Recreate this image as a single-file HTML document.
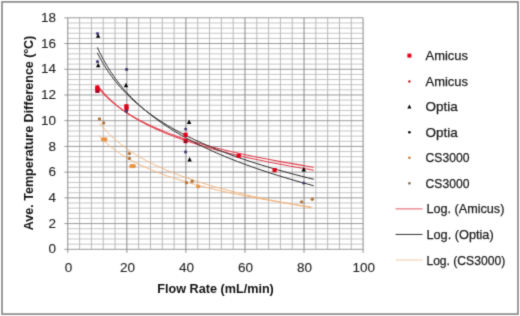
<!DOCTYPE html>
<html><head><meta charset="utf-8"><style>
html,body{margin:0;padding:0;background:#fff;}
svg{display:block;}
.mn{stroke:#bababa;stroke-width:1;}
.mnh{stroke:#c6c6c6;stroke-width:1;}
.mj{stroke:#8a8a8a;stroke-width:1;}
.mjh{stroke:#9a9a9a;stroke-width:1;}
.tl{font-family:"Liberation Sans",sans-serif;font-size:13.5px;fill:#222;stroke:#222;stroke-width:0.1;}
.tt{font-family:"Liberation Sans",sans-serif;font-size:12.4px;font-weight:bold;fill:#111;}
.lg{font-family:"Liberation Sans",sans-serif;font-size:13.4px;fill:#1a1a1a;stroke:#1a1a1a;stroke-width:0.25;}
.to{fill:none;stroke:#f1b47e;stroke-width:1.0;}
.tr{fill:none;stroke:#e2404e;stroke-width:1.05;}
.tk{fill:none;stroke:#2a2a2a;stroke-width:1.0;}
</style></head><body>
<svg width="520" height="316" viewBox="0 0 520 316">
<defs><filter id="bl" x="0" y="0" width="520" height="316" filterUnits="userSpaceOnUse" color-interpolation-filters="sRGB"><feConvolveMatrix order="3" kernelMatrix="0.019 0.1 0.019 0.1 0.524 0.1 0.019 0.1 0.019" divisor="1" edgeMode="none"/></filter></defs>
<rect x="0" y="0" width="520" height="316" fill="#fff"/>
<g filter="url(#bl)">
<rect x="2.0" y="1.9" width="516.0" height="312.2" fill="none" stroke="#7c7c7c" stroke-width="1.5"/>
<line x1="67.80" y1="244.16" x2="363.10" y2="244.16" class="mnh"/>
<line x1="67.80" y1="239.01" x2="363.10" y2="239.01" class="mnh"/>
<line x1="67.80" y1="233.87" x2="363.10" y2="233.87" class="mnh"/>
<line x1="67.80" y1="228.72" x2="363.10" y2="228.72" class="mnh"/>
<line x1="67.80" y1="218.44" x2="363.10" y2="218.44" class="mnh"/>
<line x1="67.80" y1="213.29" x2="363.10" y2="213.29" class="mnh"/>
<line x1="67.80" y1="208.15" x2="363.10" y2="208.15" class="mnh"/>
<line x1="67.80" y1="203.00" x2="363.10" y2="203.00" class="mnh"/>
<line x1="67.80" y1="192.72" x2="363.10" y2="192.72" class="mnh"/>
<line x1="67.80" y1="187.57" x2="363.10" y2="187.57" class="mnh"/>
<line x1="67.80" y1="182.43" x2="363.10" y2="182.43" class="mnh"/>
<line x1="67.80" y1="177.28" x2="363.10" y2="177.28" class="mnh"/>
<line x1="67.80" y1="167.00" x2="363.10" y2="167.00" class="mnh"/>
<line x1="67.80" y1="161.85" x2="363.10" y2="161.85" class="mnh"/>
<line x1="67.80" y1="156.71" x2="363.10" y2="156.71" class="mnh"/>
<line x1="67.80" y1="151.56" x2="363.10" y2="151.56" class="mnh"/>
<line x1="67.80" y1="141.28" x2="363.10" y2="141.28" class="mnh"/>
<line x1="67.80" y1="136.13" x2="363.10" y2="136.13" class="mnh"/>
<line x1="67.80" y1="130.99" x2="363.10" y2="130.99" class="mnh"/>
<line x1="67.80" y1="125.84" x2="363.10" y2="125.84" class="mnh"/>
<line x1="67.80" y1="115.56" x2="363.10" y2="115.56" class="mnh"/>
<line x1="67.80" y1="110.41" x2="363.10" y2="110.41" class="mnh"/>
<line x1="67.80" y1="105.27" x2="363.10" y2="105.27" class="mnh"/>
<line x1="67.80" y1="100.12" x2="363.10" y2="100.12" class="mnh"/>
<line x1="67.80" y1="89.84" x2="363.10" y2="89.84" class="mnh"/>
<line x1="67.80" y1="84.69" x2="363.10" y2="84.69" class="mnh"/>
<line x1="67.80" y1="79.55" x2="363.10" y2="79.55" class="mnh"/>
<line x1="67.80" y1="74.40" x2="363.10" y2="74.40" class="mnh"/>
<line x1="67.80" y1="64.12" x2="363.10" y2="64.12" class="mnh"/>
<line x1="67.80" y1="58.97" x2="363.10" y2="58.97" class="mnh"/>
<line x1="67.80" y1="53.83" x2="363.10" y2="53.83" class="mnh"/>
<line x1="67.80" y1="48.68" x2="363.10" y2="48.68" class="mnh"/>
<line x1="67.80" y1="38.40" x2="363.10" y2="38.40" class="mnh"/>
<line x1="67.80" y1="33.25" x2="363.10" y2="33.25" class="mnh"/>
<line x1="67.80" y1="28.11" x2="363.10" y2="28.11" class="mnh"/>
<line x1="67.80" y1="22.96" x2="363.10" y2="22.96" class="mnh"/>
<line x1="79.61" y1="17.82" x2="79.61" y2="249.30" class="mn"/>
<line x1="91.42" y1="17.82" x2="91.42" y2="249.30" class="mn"/>
<line x1="103.24" y1="17.82" x2="103.24" y2="249.30" class="mn"/>
<line x1="115.05" y1="17.82" x2="115.05" y2="249.30" class="mn"/>
<line x1="138.67" y1="17.82" x2="138.67" y2="249.30" class="mn"/>
<line x1="150.48" y1="17.82" x2="150.48" y2="249.30" class="mn"/>
<line x1="162.30" y1="17.82" x2="162.30" y2="249.30" class="mn"/>
<line x1="174.11" y1="17.82" x2="174.11" y2="249.30" class="mn"/>
<line x1="197.73" y1="17.82" x2="197.73" y2="249.30" class="mn"/>
<line x1="209.54" y1="17.82" x2="209.54" y2="249.30" class="mn"/>
<line x1="221.36" y1="17.82" x2="221.36" y2="249.30" class="mn"/>
<line x1="233.17" y1="17.82" x2="233.17" y2="249.30" class="mn"/>
<line x1="256.79" y1="17.82" x2="256.79" y2="249.30" class="mn"/>
<line x1="268.60" y1="17.82" x2="268.60" y2="249.30" class="mn"/>
<line x1="280.42" y1="17.82" x2="280.42" y2="249.30" class="mn"/>
<line x1="292.23" y1="17.82" x2="292.23" y2="249.30" class="mn"/>
<line x1="315.85" y1="17.82" x2="315.85" y2="249.30" class="mn"/>
<line x1="327.66" y1="17.82" x2="327.66" y2="249.30" class="mn"/>
<line x1="339.48" y1="17.82" x2="339.48" y2="249.30" class="mn"/>
<line x1="351.29" y1="17.82" x2="351.29" y2="249.30" class="mn"/>
<line x1="64.30" y1="249.30" x2="363.10" y2="249.30" class="mjh"/>
<line x1="64.30" y1="223.58" x2="363.10" y2="223.58" class="mjh"/>
<line x1="64.30" y1="197.86" x2="363.10" y2="197.86" class="mjh"/>
<line x1="64.30" y1="172.14" x2="363.10" y2="172.14" class="mjh"/>
<line x1="64.30" y1="146.42" x2="363.10" y2="146.42" class="mjh"/>
<line x1="64.30" y1="120.70" x2="363.10" y2="120.70" class="mjh"/>
<line x1="64.30" y1="94.98" x2="363.10" y2="94.98" class="mjh"/>
<line x1="64.30" y1="69.26" x2="363.10" y2="69.26" class="mjh"/>
<line x1="64.30" y1="43.54" x2="363.10" y2="43.54" class="mjh"/>
<line x1="64.30" y1="17.82" x2="363.10" y2="17.82" class="mjh"/>
<line x1="67.80" y1="17.82" x2="67.80" y2="252.80" class="mj"/>
<line x1="126.86" y1="17.82" x2="126.86" y2="252.80" class="mj"/>
<line x1="185.92" y1="17.82" x2="185.92" y2="252.80" class="mj"/>
<line x1="244.98" y1="17.82" x2="244.98" y2="252.80" class="mj"/>
<line x1="304.04" y1="17.82" x2="304.04" y2="252.80" class="mj"/>
<line x1="363.10" y1="17.82" x2="363.10" y2="252.80" class="mj"/>
<polyline points="99.49,122.83 100.31,123.89 101.15,124.96 102.01,126.02 102.89,127.08 103.80,128.15 104.73,129.21 105.69,130.27 106.67,131.34 107.67,132.40 108.71,133.46 109.76,134.52 110.85,135.59 111.96,136.65 113.11,137.71 114.28,138.78 115.48,139.84 116.72,140.90 117.98,141.97 119.28,143.03 120.61,144.09 121.98,145.16 123.38,146.22 124.82,147.28 126.29,148.35 127.80,149.41 129.36,150.47 130.95,151.54 132.58,152.60 134.26,153.66 135.98,154.73 137.74,155.79 139.55,156.85 141.41,157.92 143.31,158.98 145.27,160.04 147.27,161.11 149.33,162.17 151.44,163.23 153.60,164.30 155.82,165.36 158.10,166.42 160.43,167.49 162.83,168.55 165.29,169.61 167.81,170.68 170.40,171.74 173.05,172.80 175.77,173.87 178.57,174.93 181.43,175.99 184.37,177.06 187.39,178.12 190.48,179.18 193.66,180.25 196.91,181.31 200.25,182.37 203.68,183.44 207.20,184.50 210.80,185.56 214.50,186.63 218.30,187.69 222.19,188.75 226.19,189.81 230.28,190.88 234.49,191.94 238.80,193.00 243.22,194.07 247.76,195.13 252.42,196.19 257.19,197.26 262.09,198.32 267.12,199.38 272.28,200.45 277.57,201.51 282.99,202.57 288.56,203.64 294.27,204.70 300.13,205.76 306.14,206.83 312.31,207.89" class="to"/>
<polyline points="98.81,135.51 99.61,136.40 100.44,137.29 101.30,138.18 102.17,139.08 103.06,139.97 103.98,140.86 104.93,141.75 105.90,142.64 106.89,143.53 107.91,144.43 108.95,145.32 110.03,146.21 111.13,147.10 112.26,147.99 113.42,148.88 114.61,149.78 115.83,150.67 117.08,151.56 118.36,152.45 119.68,153.34 121.03,154.23 122.42,155.13 123.85,156.02 125.31,156.91 126.81,157.80 128.34,158.69 129.92,159.58 131.54,160.48 133.20,161.37 134.91,162.26 136.66,163.15 138.45,164.04 140.30,164.93 142.19,165.83 144.13,166.72 146.12,167.61 148.16,168.50 150.25,169.39 152.40,170.28 154.61,171.18 156.87,172.07 159.19,172.96 161.58,173.85 164.02,174.74 166.53,175.63 169.10,176.53 171.74,177.42 174.45,178.31 177.24,179.20 180.09,180.09 183.02,180.98 186.02,181.88 189.10,182.77 192.26,183.66 195.51,184.55 198.84,185.44 202.26,186.33 205.76,187.23 209.36,188.12 213.05,189.01 216.84,189.90 220.72,190.79 224.71,191.68 228.80,192.58 233.00,193.47 237.30,194.36 241.72,195.25 246.26,196.14 250.91,197.03 255.68,197.93 260.58,198.82 265.61,199.71 270.76,200.60 276.06,201.49 281.49,202.38 287.06,203.28 292.77,204.17 298.64,205.06 304.66,205.95 310.83,206.84" class="to"/>
<polyline points="97.33,86.49 98.12,87.50 98.94,88.51 99.77,89.52 100.63,90.53 101.51,91.53 102.42,92.54 103.35,93.55 104.30,94.56 105.28,95.57 106.29,96.58 107.32,97.58 108.38,98.59 109.47,99.60 110.59,100.61 111.74,101.62 112.92,102.63 114.13,103.63 115.38,104.64 116.66,105.65 117.97,106.66 119.31,107.67 120.70,108.68 122.12,109.68 123.58,110.69 125.07,111.70 126.61,112.71 128.19,113.72 129.81,114.73 131.48,115.73 133.19,116.74 134.94,117.75 136.75,118.76 138.60,119.77 140.50,120.78 142.45,121.78 144.46,122.79 146.52,123.80 148.63,124.81 150.80,125.82 153.03,126.83 155.32,127.83 157.67,128.84 160.08,129.85 162.56,130.86 165.10,131.87 167.72,132.88 170.40,133.88 173.15,134.89 175.98,135.90 178.89,136.91 181.87,137.92 184.93,138.93 188.08,139.93 191.31,140.94 194.63,141.95 198.03,142.96 201.53,143.97 205.12,144.98 208.81,145.98 212.59,146.99 216.48,148.00 220.47,149.01 224.57,150.02 228.78,151.03 233.11,152.03 237.54,153.04 242.10,154.05 246.78,155.06 251.59,156.07 256.52,157.08 261.59,158.08 266.80,159.09 272.14,160.10 277.63,161.11 283.26,162.12 289.05,163.13 294.99,164.13 301.09,165.14 307.35,166.15 313.78,167.16" class="tr"/>
<polyline points="97.33,85.08 98.12,86.14 98.94,87.20 99.77,88.27 100.63,89.33 101.51,90.40 102.42,91.46 103.35,92.52 104.30,93.59 105.28,94.65 106.29,95.71 107.32,96.78 108.38,97.84 109.47,98.90 110.59,99.97 111.74,101.03 112.92,102.09 114.13,103.16 115.38,104.22 116.66,105.29 117.97,106.35 119.31,107.41 120.70,108.48 122.12,109.54 123.58,110.60 125.07,111.67 126.61,112.73 128.19,113.79 129.81,114.86 131.48,115.92 133.19,116.98 134.94,118.05 136.75,119.11 138.60,120.17 140.50,121.24 142.45,122.30 144.46,123.37 146.52,124.43 148.63,125.49 150.80,126.56 153.03,127.62 155.32,128.68 157.67,129.75 160.08,130.81 162.56,131.87 165.10,132.94 167.72,134.00 170.40,135.06 173.15,136.13 175.98,137.19 178.89,138.25 181.87,139.32 184.93,140.38 188.08,141.45 191.31,142.51 194.63,143.57 198.03,144.64 201.53,145.70 205.12,146.76 208.81,147.83 212.59,148.89 216.48,149.95 220.47,151.02 224.57,152.08 228.78,153.14 233.11,154.21 237.54,155.27 242.10,156.33 246.78,157.40 251.59,158.46 256.52,159.53 261.59,160.59 266.80,161.65 272.14,162.72 277.63,163.78 283.26,164.84 289.05,165.91 294.99,166.97 301.09,168.03 307.35,169.10 313.78,170.16" class="tr"/>
<polyline points="97.33,47.40 98.12,49.13 98.94,50.86 99.77,52.59 100.63,54.32 101.51,56.04 102.42,57.77 103.35,59.50 104.30,61.23 105.28,62.96 106.29,64.69 107.32,66.42 108.38,68.15 109.47,69.88 110.59,71.61 111.74,73.34 112.92,75.07 114.13,76.80 115.38,78.53 116.66,80.26 117.97,81.99 119.31,83.72 120.70,85.44 122.12,87.17 123.58,88.90 125.07,90.63 126.61,92.36 128.19,94.09 129.81,95.82 131.48,97.55 133.19,99.28 134.94,101.01 136.75,102.74 138.60,104.47 140.50,106.20 142.45,107.93 144.46,109.66 146.52,111.39 148.63,113.12 150.80,114.84 153.03,116.57 155.32,118.30 157.67,120.03 160.08,121.76 162.56,123.49 165.10,125.22 167.72,126.95 170.40,128.68 173.15,130.41 175.98,132.14 178.89,133.87 181.87,135.60 184.93,137.33 188.08,139.06 191.31,140.79 194.63,142.51 198.03,144.24 201.53,145.97 205.12,147.70 208.81,149.43 212.59,151.16 216.48,152.89 220.47,154.62 224.57,156.35 228.78,158.08 233.11,159.81 237.54,161.54 242.10,163.27 246.78,165.00 251.59,166.73 256.52,168.46 261.59,170.19 266.80,171.91 272.14,173.64 277.63,175.37 283.26,177.10 289.05,178.83 294.99,180.56 301.09,182.29 307.35,184.02 313.78,185.75" class="tk"/>
<polyline points="97.33,52.80 98.12,54.38 98.94,55.96 99.77,57.54 100.63,59.12 101.51,60.71 102.42,62.29 103.35,63.87 104.30,65.45 105.28,67.03 106.29,68.61 107.32,70.19 108.38,71.77 109.47,73.35 110.59,74.94 111.74,76.52 112.92,78.10 114.13,79.68 115.38,81.26 116.66,82.84 117.97,84.42 119.31,86.00 120.70,87.58 122.12,89.17 123.58,90.75 125.07,92.33 126.61,93.91 128.19,95.49 129.81,97.07 131.48,98.65 133.19,100.23 134.94,101.82 136.75,103.40 138.60,104.98 140.50,106.56 142.45,108.14 144.46,109.72 146.52,111.30 148.63,112.88 150.80,114.46 153.03,116.05 155.32,117.63 157.67,119.21 160.08,120.79 162.56,122.37 165.10,123.95 167.72,125.53 170.40,127.11 173.15,128.70 175.98,130.28 178.89,131.86 181.87,133.44 184.93,135.02 188.08,136.60 191.31,138.18 194.63,139.76 198.03,141.34 201.53,142.93 205.12,144.51 208.81,146.09 212.59,147.67 216.48,149.25 220.47,150.83 224.57,152.41 228.78,153.99 233.11,155.57 237.54,157.16 242.10,158.74 246.78,160.32 251.59,161.90 256.52,163.48 261.59,165.06 266.80,166.64 272.14,168.22 277.63,169.81 283.26,171.39 289.05,172.97 294.99,174.55 301.09,176.13 307.35,177.71 313.78,179.29" class="tk"/>
<rect x="95.20" y="85.50" width="4.2" height="4.2" fill="#e3001b"/>
<rect x="95.50" y="87.50" width="4.2" height="4.2" fill="#e3001b"/>
<rect x="95.30" y="88.70" width="4.2" height="4.2" fill="#e3001b"/>
<rect x="124.30" y="104.20" width="4.2" height="4.2" fill="#e3001b"/>
<rect x="124.40" y="106.30" width="4.2" height="4.2" fill="#e3001b"/>
<rect x="183.50" y="132.70" width="4.2" height="4.2" fill="#e3001b"/>
<rect x="183.50" y="139.00" width="4.2" height="4.2" fill="#e3001b"/>
<rect x="236.60" y="153.70" width="4.2" height="4.2" fill="#e3001b"/>
<rect x="272.50" y="168.00" width="4.2" height="4.2" fill="#e3001b"/>
<circle cx="97.60" cy="91.50" r="1.5" fill="#7a1630"/>
<circle cx="126.40" cy="111.00" r="1.5" fill="#7a1630"/>
<circle cx="185.60" cy="141.80" r="1.5" fill="#7a1630"/>
<path d="M98.10,33.38 L100.30,37.78 L95.90,37.78Z" fill="#000"/>
<path d="M98.20,62.88 L100.40,67.28 L96.00,67.28Z" fill="#000"/>
<path d="M126.00,82.78 L128.20,87.18 L123.80,87.18Z" fill="#000"/>
<path d="M189.10,119.48 L191.30,123.88 L186.90,123.88Z" fill="#000"/>
<path d="M189.60,156.98 L191.80,161.38 L187.40,161.38Z" fill="#000"/>
<path d="M303.80,167.08 L306.00,171.48 L301.60,171.48Z" fill="#000"/>
<circle cx="97.50" cy="33.50" r="1.6" fill="#453d72"/>
<circle cx="97.50" cy="61.70" r="1.6" fill="#453d72"/>
<circle cx="126.60" cy="69.40" r="1.6" fill="#453d72"/>
<circle cx="126.40" cy="111.30" r="1.6" fill="#453d72"/>
<circle cx="185.70" cy="129.00" r="1.6" fill="#453d72"/>
<circle cx="185.60" cy="151.90" r="1.6" fill="#453d72"/>
<circle cx="303.60" cy="183.00" r="1.6" fill="#453d72"/>
<circle cx="103.00" cy="139.40" r="2.1" fill="#ea9440"/>
<circle cx="105.40" cy="139.40" r="2.1" fill="#ea9440"/>
<circle cx="131.40" cy="166.20" r="2.1" fill="#ea9440"/>
<circle cx="133.80" cy="166.20" r="2.1" fill="#ea9440"/>
<circle cx="198.10" cy="186.50" r="2.1" fill="#ea9440"/>
<circle cx="99.50" cy="118.90" r="1.7" fill="#b07840"/>
<circle cx="103.60" cy="123.00" r="1.7" fill="#b07840"/>
<circle cx="129.40" cy="153.60" r="1.7" fill="#b07840"/>
<circle cx="129.40" cy="158.40" r="1.7" fill="#b07840"/>
<circle cx="186.50" cy="182.70" r="1.7" fill="#b07840"/>
<circle cx="192.10" cy="181.20" r="1.7" fill="#b07840"/>
<circle cx="301.60" cy="201.90" r="1.7" fill="#b07840"/>
<circle cx="312.30" cy="199.30" r="1.7" fill="#b07840"/>
<text x="56.1" y="253.40" class="tl" text-anchor="end">0</text><text x="56.1" y="227.68" class="tl" text-anchor="end">2</text><text x="56.1" y="201.96" class="tl" text-anchor="end">4</text><text x="56.1" y="176.24" class="tl" text-anchor="end">6</text><text x="56.1" y="150.52" class="tl" text-anchor="end">8</text><text x="56.1" y="124.80" class="tl" text-anchor="end">10</text><text x="56.1" y="99.08" class="tl" text-anchor="end">12</text><text x="56.1" y="73.36" class="tl" text-anchor="end">14</text><text x="56.1" y="47.64" class="tl" text-anchor="end">16</text><text x="56.1" y="21.92" class="tl" text-anchor="end">18</text>
<text x="68.40" y="271.9" class="tl" text-anchor="middle">0</text><text x="127.46" y="271.9" class="tl" text-anchor="middle">20</text><text x="186.52" y="271.9" class="tl" text-anchor="middle">40</text><text x="245.58" y="271.9" class="tl" text-anchor="middle">60</text><text x="304.64" y="271.9" class="tl" text-anchor="middle">80</text><text x="363.70" y="271.9" class="tl" text-anchor="middle">100</text>
<text x="215.6" y="293.2" class="tt" text-anchor="middle" textLength="116.5" lengthAdjust="spacingAndGlyphs">Flow Rate (mL/min)</text>
<text transform="translate(33.4,133) rotate(-90)" class="tt" text-anchor="middle" textLength="194.5" lengthAdjust="spacingAndGlyphs">Ave. Temperature Difference (ºC)</text>
<text x="425.6" y="60.10" class="lg" textLength="42.4" lengthAdjust="spacingAndGlyphs">Amicus</text>
<rect x="407.40" y="53.60" width="4" height="4" fill="#e3001b"/>
<text x="425.6" y="85.65" class="lg" textLength="42.4" lengthAdjust="spacingAndGlyphs">Amicus</text>
<circle cx="409.4" cy="81.55" r="1.25" fill="#c0202e"/>
<text x="425.6" y="111.20" class="lg" textLength="32.2" lengthAdjust="spacingAndGlyphs">Optia</text>
<path d="M409.40,104.50 L411.40,108.50 L407.40,108.50Z" fill="#000"/>
<text x="425.6" y="136.75" class="lg" textLength="32.2" lengthAdjust="spacingAndGlyphs">Optia</text>
<circle cx="409.4" cy="132.25" r="1.3" fill="#000"/>
<text x="425.6" y="162.30" class="lg" textLength="43.8" lengthAdjust="spacingAndGlyphs">CS3000</text>
<circle cx="409.4" cy="157.80" r="1.3" fill="#c07a40"/>
<text x="425.6" y="187.85" class="lg" textLength="43.8" lengthAdjust="spacingAndGlyphs">CS3000</text>
<circle cx="409.4" cy="183.35" r="1.3" fill="#7d6f55"/>
<text x="426.4" y="213.40" class="lg" textLength="78.0" lengthAdjust="spacingAndGlyphs">Log. (Amicus)</text>
<line x1="395.6" y1="208.90" x2="422.5" y2="208.90" stroke="#e25660" stroke-width="1.0"/>
<text x="426.4" y="238.95" class="lg" textLength="67.3" lengthAdjust="spacingAndGlyphs">Log. (Optia)</text>
<line x1="395.6" y1="234.45" x2="422.5" y2="234.45" stroke="#333" stroke-width="1.0"/>
<text x="426.4" y="264.50" class="lg" textLength="78.8" lengthAdjust="spacingAndGlyphs">Log. (CS3000)</text>
<line x1="395.6" y1="260.00" x2="422.5" y2="260.00" stroke="#f0cca8" stroke-width="1.0"/>
</g>
</svg>
</body></html>
